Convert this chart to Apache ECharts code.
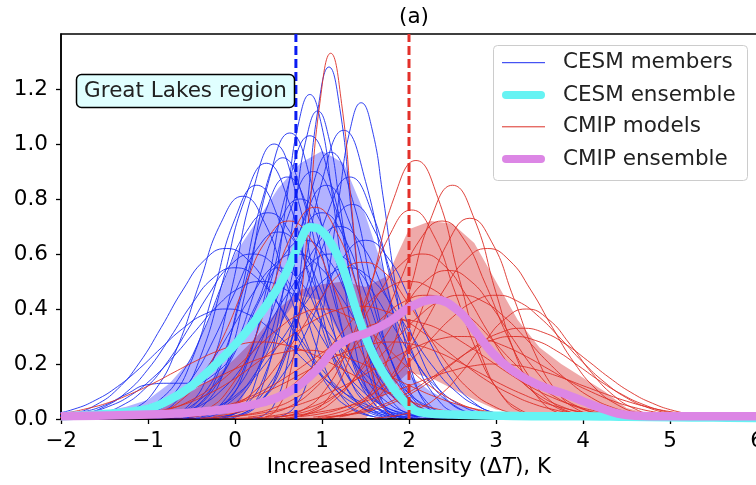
<!DOCTYPE html>
<html><head><meta charset="utf-8">
<script src="https://cdn.jsdelivr.net/npm/echarts@6/dist/echarts.min.js"></script>
<style>html,body{margin:0;padding:0;background:#fff}#c{width:756px;height:485px}</style>
</head><body><div id="c"></div>
<script>
// ---------- DATA ----------
const xTickValues = [-2,-1,0,1,2,3,4,5,6];
const yTickValues = [0,0.2,0.4,0.6,0.8,1.0,1.2];
const cesmEnsembleX = [-2,-1.5,-1,-0.75,-0.5,-0.25,0,0.25,0.5,0.63,0.75,0.86,0.97,1.12,1.25,1.4,1.55,1.7,1.9,2.12,2.5,3,3.5,4,4.5,5,5.5,6];
const cesmEnsembleY = [0.010,0.018,0.037,0.07,0.12,0.19,0.27,0.365,0.48,0.56,0.645,0.697,0.69,0.63,0.54,0.39,0.26,0.17,0.08,0.025,0.016,0.012,0.010,0.010,0.008,0.006,0.005,0.004];
const cmipEnsembleX = [-2,-1,-0.5,0,0.25,0.5,0.75,1.0,1.12,1.3,1.53,1.78,2.0,2.3,2.58,2.77,2.96,3.15,3.38,3.6,3.8,4.0,4.2,4.4,4.6,5,5.5,6];
const cmipEnsembleY = [0.010,0.016,0.024,0.04,0.055,0.08,0.125,0.2,0.25,0.29,0.315,0.355,0.405,0.435,0.39,0.315,0.24,0.185,0.14,0.11,0.09,0.065,0.04,0.02,0.012,0.01,0.01,0.01];
const bandStartX = -2, bandStepX = 0.25; // band sample grid (x = -2 … 6)
const cesmBandUpper = [0.012,0.018,0.028,0.045,0.07,0.13,0.22,0.40,0.60,0.72,0.84,0.93,0.975,0.93,0.74,0.50,0.16,0.10,0.06,0.035,0.022,0.015,0.012,0.010,0.010,0.008,0.006,0.005,0.004,0.003,0.003,0.002,0.002];
const cesmBandLower = [0,0,0,0,0,0,0,0,0.03,0.17,0.34,0.45,0.43,0.28,0.10,0.02,0,0,0,0,0,0,0,0,0,0,0,0,0,0,0,0,0];
const cmipBandUpper = [0.01,0.015,0.02,0.03,0.045,0.07,0.1,0.15,0.22,0.3,0.4,0.47,0.49,0.5,0.48,0.52,0.69,0.72,0.71,0.64,0.5,0.36,0.26,0.2,0.15,0.1,0.04,0.02,0.012,0.01,0.01,0.01,0.01];
const cmipBandLower = [0,0,0,0,0,0,0,0,0,0,0,0,0,0,0,0.10,0.17,0.15,0.11,0.07,0.035,0.02,0.01,0,0,0,0,0,0,0,0,0,0];

// each member: [first x, x step, y values]
const cesmMembers = [
 [0.205,0.125,[0.003,0.014,0.056,0.173,0.416,0.777,1.129,1.28,1.129,0.777,0.416,0.173,0.056,0.014,0.003]],
 [0.45,0.125,[0.005,0.016,0.051,0.131,0.286,0.527,0.813,1.055,1.15,1.055,0.813,0.527,0.286,0.131,0.051,0.016,0.005]],
 [-0.14,0.125,[0.005,0.017,0.052,0.135,0.294,0.54,0.834,1.082,1.18,1.082,0.834,0.54,0.294,0.135,0.052,0.017,0.005]],
 [-0.05,0.125,[0.004,0.016,0.049,0.128,0.279,0.513,0.792,1.027,1.12,1.027,0.792,0.513,0.279,0.128,0.049,0.016,0.004]],
 [-0.62,0.25,[0.008,0.046,0.179,0.476,0.856,1.04,0.856,0.476,0.179,0.046,0.008]],
 [-0.39,0.25,[0.008,0.045,0.177,0.472,0.848,1.03,0.848,0.472,0.177,0.045,0.008]],
 [-1.14,0.25,[0.004,0.02,0.079,0.232,0.502,0.797,0.93,0.797,0.502,0.232,0.079,0.02,0.004]],
 [-1.41,0.25,[0.009,0.036,0.109,0.263,0.492,0.714,0.81,0.714,0.492,0.263,0.109,0.036,0.009]],
 [-1.37,0.25,[0.007,0.023,0.068,0.161,0.315,0.51,0.681,0.75,0.681,0.51,0.315,0.161,0.068,0.023,0.007]],
 [-0.15,0.25,[0.007,0.043,0.167,0.444,0.798,0.97,0.798,0.444,0.167,0.043,0.007]],
 [-0.18,0.25,[0.004,0.018,0.075,0.219,0.475,0.754,0.88,0.754,0.475,0.219,0.075,0.018,0.004]],
 [-0.9,0.25,[0.004,0.018,0.075,0.219,0.475,0.754,0.88,0.754,0.475,0.219,0.075,0.018,0.004]],
 [-0.75,0.25,[0.009,0.035,0.108,0.26,0.486,0.706,0.8,0.706,0.486,0.26,0.108,0.035,0.009]],
 [-0.5,0.25,[0.008,0.033,0.101,0.244,0.455,0.662,0.75,0.662,0.455,0.244,0.101,0.033,0.008]],
 [-2.1,0.25,[0.007,0.02,0.051,0.109,0.204,0.332,0.469,0.578,0.62,0.578,0.469,0.332,0.204,0.109,0.051,0.02,0.007]],
 [-1.25,0.25,[0.006,0.021,0.061,0.146,0.286,0.462,0.617,0.68,0.617,0.462,0.286,0.146,0.061,0.021,0.006]],
 [-0.55,0.25,[0.006,0.022,0.063,0.151,0.294,0.476,0.636,0.7,0.636,0.476,0.294,0.151,0.063,0.022,0.006]],
 [-1.8,0.25,[0.007,0.02,0.049,0.106,0.197,0.321,0.454,0.56,0.6,0.56,0.454,0.321,0.197,0.106,0.049,0.02,0.007]],
 [-0.6,0.25,[0.004,0.019,0.077,0.224,0.486,0.771,0.9,0.771,0.486,0.224,0.077,0.019,0.004]],
 [-0.25,0.25,[0.006,0.02,0.059,0.14,0.273,0.442,0.59,0.65,0.59,0.442,0.273,0.14,0.059,0.02,0.006]],
 [-2.0,0.25,[0.007,0.018,0.045,0.097,0.181,0.294,0.416,0.513,0.55,0.513,0.416,0.294,0.181,0.097,0.045,0.018,0.007]],
 [-2.35,0.25,[0.008,0.018,0.036,0.069,0.118,0.183,0.258,0.329,0.381,0.4,0.381,0.329,0.258,0.183,0.118,0.069,0.036,0.018,0.008]],
 [-1.3,0.25,[0.007,0.02,0.049,0.106,0.197,0.321,0.454,0.56,0.6,0.56,0.454,0.321,0.197,0.106,0.049,0.02,0.007]],
 [-0.9,0.25,[0.007,0.02,0.049,0.106,0.197,0.321,0.454,0.56,0.6,0.56,0.454,0.321,0.197,0.106,0.049,0.02,0.007]],
 [-2.0,0.25,[0.01,0.025,0.05,0.09,0.125,0.13,0.13,0.16,0.25,0.42,0.55,0.5,0.35,0.18,0.07,0.02,0.005]],
 [-0.8,0.25,[0.008,0.044,0.172,0.458,0.823,1.0,0.823,0.458,0.172,0.044,0.008]],
 [0.0,0.25,[0.008,0.046,0.181,0.481,0.864,1.05,0.864,0.481,0.181,0.046,0.008]],
 [-1.25,0.25,[0.003,0.018,0.072,0.212,0.459,0.728,0.85,0.728,0.459,0.212,0.072,0.018,0.003]],
 [-0.7,0.25,[0.007,0.042,0.163,0.435,0.782,0.95,0.782,0.435,0.163,0.042,0.007]],
 [-0.7,0.25,[0.007,0.018,0.045,0.097,0.181,0.294,0.416,0.513,0.55,0.513,0.416,0.294,0.181,0.097,0.045,0.018,0.007]],
 [-0.95,0.25,[0.006,0.02,0.059,0.14,0.273,0.442,0.59,0.65,0.59,0.442,0.273,0.14,0.059,0.02,0.006]],
 [-0.15,0.25,[0.009,0.034,0.105,0.254,0.473,0.688,0.78,0.688,0.473,0.254,0.105,0.034,0.009]],
 [-1.95,0.25,[0.01,0.022,0.046,0.086,0.148,0.229,0.322,0.412,0.476,0.5,0.476,0.412,0.322,0.229,0.148,0.086,0.046,0.022,0.01]],
 [-0.45,0.25,[0.003,0.018,0.072,0.212,0.459,0.728,0.85,0.728,0.459,0.212,0.072,0.018,0.003]]
];
const cmipModels = [
 [0.35,0.125,[0.007,0.033,0.125,0.352,0.738,1.148,1.33,1.148,0.738,0.352,0.125,0.033,0.007]],
 [0.58,0.25,[0.004,0.02,0.08,0.234,0.508,0.806,0.94,0.806,0.508,0.234,0.08,0.02,0.004]],
 [1.0,0.25,[0.003,0.018,0.072,0.212,0.459,0.728,0.85,0.728,0.459,0.212,0.072,0.018,0.003]],
 [0.53,0.25,[0.008,0.033,0.103,0.247,0.461,0.67,0.76,0.67,0.461,0.247,0.103,0.033,0.008]],
 [0.63,0.25,[0.006,0.022,0.065,0.155,0.302,0.49,0.654,0.72,0.654,0.49,0.302,0.155,0.065,0.022,0.006]],
 [1.2,0.25,[0.008,0.032,0.099,0.237,0.443,0.644,0.73,0.644,0.443,0.237,0.099,0.032,0.008]],
 [0.9,0.25,[0.007,0.02,0.051,0.109,0.204,0.332,0.469,0.578,0.62,0.578,0.469,0.332,0.204,0.109,0.051,0.02,0.007]],
 [-0.58,0.25,[0.008,0.034,0.104,0.25,0.467,0.679,0.77,0.679,0.467,0.25,0.104,0.034,0.008]],
 [-1.13,0.25,[0.006,0.022,0.065,0.155,0.302,0.49,0.654,0.72,0.654,0.49,0.302,0.155,0.065,0.022,0.006]],
 [-0.53,0.25,[0.007,0.019,0.047,0.1,0.188,0.305,0.431,0.532,0.57,0.532,0.431,0.305,0.188,0.1,0.047,0.019,0.007]],
 [-1.57,0.25,[0.005,0.009,0.018,0.033,0.055,0.089,0.133,0.188,0.249,0.31,0.362,0.397,0.41,0.397,0.362,0.31,0.249,0.188,0.133,0.089,0.055,0.033,0.018,0.009,0.005]],
 [0.45,0.25,[0.006,0.018,0.044,0.095,0.178,0.289,0.409,0.504,0.54,0.504,0.409,0.289,0.178,0.095,0.044,0.018,0.006]],
 [0.75,0.25,[0.009,0.02,0.041,0.077,0.133,0.206,0.29,0.37,0.428,0.45,0.428,0.37,0.29,0.206,0.133,0.077,0.041,0.02,0.009]],
 [-0.05,0.25,[0.009,0.02,0.041,0.077,0.133,0.206,0.29,0.37,0.428,0.45,0.428,0.37,0.29,0.206,0.133,0.077,0.041,0.02,0.009]],
 [1.05,0.25,[0.006,0.015,0.03,0.057,0.097,0.151,0.213,0.272,0.314,0.33,0.314,0.272,0.213,0.151,0.097,0.057,0.03,0.015,0.006]],
 [-1.1,0.25,[0.004,0.008,0.016,0.029,0.049,0.078,0.117,0.165,0.219,0.272,0.318,0.349,0.36,0.349,0.318,0.272,0.219,0.165,0.117,0.078,0.049,0.029,0.016,0.008,0.004]],
 [-2.7,0.25,[0.003,0.006,0.012,0.022,0.038,0.06,0.091,0.128,0.17,0.211,0.247,0.271,0.28,0.271,0.247,0.211,0.17,0.128,0.091,0.06,0.038,0.022,0.012,0.006,0.003]],
 [-0.4,0.25,[0.003,0.007,0.013,0.024,0.041,0.065,0.098,0.137,0.182,0.227,0.265,0.291,0.3,0.291,0.265,0.227,0.182,0.137,0.098,0.065,0.041,0.024,0.013,0.007,0.003]],
 [0.95,0.25,[0.006,0.013,0.027,0.052,0.089,0.137,0.193,0.247,0.286,0.3,0.286,0.247,0.193,0.137,0.089,0.052,0.027,0.013,0.006]],
 [-1.2,0.25,[0.003,0.006,0.012,0.022,0.038,0.06,0.091,0.128,0.17,0.211,0.247,0.271,0.28,0.271,0.247,0.211,0.17,0.128,0.091,0.06,0.038,0.022,0.012,0.006,0.003]],
 [-2.2,0.25,[0.003,0.006,0.011,0.02,0.034,0.054,0.081,0.115,0.152,0.189,0.221,0.242,0.25,0.242,0.221,0.189,0.152,0.115,0.081,0.054,0.034,0.02,0.011,0.006,0.003]],
 [0.15,0.25,[0.007,0.02,0.049,0.106,0.197,0.321,0.454,0.56,0.6,0.56,0.454,0.321,0.197,0.106,0.049,0.02,0.007]],
 [0.35,0.25,[0.009,0.02,0.041,0.077,0.133,0.206,0.29,0.37,0.428,0.45,0.428,0.37,0.29,0.206,0.133,0.077,0.041,0.02,0.009]],
 [-1.25,0.25,[0.008,0.018,0.036,0.069,0.118,0.183,0.258,0.329,0.381,0.4,0.381,0.329,0.258,0.183,0.118,0.069,0.036,0.018,0.008]],
 [0.0,0.25,[0.002,0.005,0.009,0.016,0.027,0.043,0.065,0.092,0.121,0.151,0.176,0.194,0.2,0.194,0.176,0.151,0.121,0.092,0.065,0.043,0.027,0.016,0.009,0.005,0.002]],
 [-0.25,0.25,[0.01,0.022,0.046,0.086,0.148,0.229,0.322,0.412,0.476,0.5,0.476,0.412,0.322,0.229,0.148,0.086,0.046,0.022,0.01]],
 [1.6,0.25,[0.004,0.012,0.036,0.086,0.168,0.272,0.363,0.4,0.363,0.272,0.168,0.086,0.036,0.012,0.004]]
];
const cesmThreshold = 0.7;
const cmipThreshold = 2.0;
const yMax = 1.4;
const legendLabels = ['CESM members','CESM ensemble','CMIP models','CMIP ensemble'];
const regionLabel = 'Great Lakes region';

// ---------- CHART ----------
const FONT = 'DejaVu Sans';
const chart = echarts.init(document.getElementById('c'));
const memberPts = c => c[2].map((y,i) => [c[0] + i*c[1], y]);
const zipPts = (xs, ys) => xs.map((x,i) => [x, ys[i]]);

function band(name, upper, lower, color, z){
  return {type:'custom', name, z, silent:true, data:[[0,0]],
    renderItem:(params, api) => {
      const pts = [];
      upper.forEach((y,i) => pts.push(api.coord([bandStartX + i*bandStepX, y])));
      for (let i = lower.length-1; i >= 0; i--) pts.push(api.coord([bandStartX + i*bandStepX, lower[i]]));
      return {type:'polygon', shape:{points:pts}, style:{fill:color}};
    }};
}
const series = [];
series.push(band('cmipBand', cmipBandUpper, cmipBandLower, 'rgba(214,39,40,0.4)', 1));
series.push(band('cesmBand', cesmBandUpper, cesmBandLower, 'rgba(0,0,255,0.3)', 1));
cesmMembers.forEach(c => series.push({type:'line', name:legendLabels[0], data:memberPts(c), smooth:0.5, symbol:'none', silent:true, z:3,
  lineStyle:{color:'#1a2cf0', width:0.9}}));
cmipModels.forEach(c => series.push({type:'line', name:legendLabels[2], data:memberPts(c), smooth:0.5, symbol:'none', silent:true, z:4,
  lineStyle:{color:'#dc2f27', width:0.9}}));
series.push({type:'line', name:legendLabels[1], data:zipPts(cesmEnsembleX, cesmEnsembleY), smooth:0.4, symbol:'none', silent:true, z:5,
  lineStyle:{color:'#66f3f3', width:8.5}});
series.push({type:'line', name:legendLabels[3], data:zipPts(cmipEnsembleX, cmipEnsembleY), smooth:0.4, symbol:'none', silent:true, z:6,
  lineStyle:{color:'#dc86e5', width:8.5}});
series.push({type:'line', data:[[cesmThreshold,0],[cesmThreshold,yMax]], symbol:'none', silent:true, z:7,
  lineStyle:{color:'#0a1cf2', width:3, type:[9,4]}});
series.push({type:'line', data:[[cmipThreshold,0],[cmipThreshold,yMax]], symbol:'none', silent:true, z:7,
  lineStyle:{color:'#e3302a', width:3, type:[9,4]}});

const LX = 493, LY = 45, rowY = [62.7, 95, 126.8, 159];
const legendStyles = [
  {stroke:'#1a2cf0', lineWidth:1},
  {stroke:'#66f3f3', lineWidth:8, lineCap:'round'},
  {stroke:'#dc2f27', lineWidth:1},
  {stroke:'#dc86e5', lineWidth:8, lineCap:'round'}
];
const graphics = [
  {type:'rect', z:100, shape:{x:LX+0.5, y:LY+0.5, width:254, height:135, r:4}, style:{fill:'rgba(255,255,255,0.8)', stroke:'#cccccc', lineWidth:1}},
  {type:'rect', z:100, shape:{x:76.5, y:74.5, width:218, height:33, r:5}, style:{fill:'#e0ffff', stroke:'#000', lineWidth:1.5}},
  {type:'text', z:101, style:{text:regionLabel, x:185.5, y:91.5, textAlign:'center', textVerticalAlign:'middle', font:'21.5px "DejaVu Sans"', fill:'#222'}}
];
legendLabels.forEach((t,i) => {
  const st = legendStyles[i];
  const pad = st.lineCap === 'round' ? 4 : 0;
  graphics.push({type:'line', z:101, shape:{x1:502+pad, y1:rowY[i], x2:545-pad, y2:rowY[i]}, style:Object.assign({}, st)});
  graphics.push({type:'text', z:101, style:{text:t, x:563, y:rowY[i], textVerticalAlign:'middle', font:'21.5px "DejaVu Sans"', fill:'#222'}});
});

chart.setOption({
  animation:false,
  title:{text:'(a)', left:409, top:1, textAlign:'center', textStyle:{fontSize:21.5, fontWeight:'normal', fontFamily:FONT, color:'#000'}},
  grid:{left:61, right:-1, top:34, bottom:66, show:true, borderColor:'#000', borderWidth:1.5, outerBoundsMode:'none', containLabel:false},
  xAxis:{type:'value', min:xTickValues[0], max:xTickValues[xTickValues.length-1], interval:1,
    axisLine:{show:true, onZero:false, lineStyle:{color:'#000', width:1.5}},
    axisTick:{show:true, length:5, lineStyle:{color:'#000', width:1.3}},
    axisLabel:{show:true, color:'#000', fontSize:21.5, fontFamily:FONT, margin:11,
      formatter:v => v < 0 ? '\u2212' + Math.abs(v) : String(v)},
    splitLine:{show:false},
    name:'Increased Intensity (\u0394{i|T}), K', nameLocation:'middle', nameGap:34,
    nameTextStyle:{fontSize:21.5, fontFamily:FONT, color:'#000', rich:{i:{fontStyle:'italic', fontSize:21.5, fontFamily:FONT, color:'#000'}}}},
  yAxis:{type:'value', min:yTickValues[0], max:yMax, interval:0.2,
    axisLine:{show:true, onZero:false, lineStyle:{color:'#000', width:1.5}},
    axisTick:{show:true, length:5, lineStyle:{color:'#000', width:1.3}},
    axisLabel:{show:true, color:'#000', fontSize:21.5, fontFamily:FONT, margin:13, showMaxLabel:false,
      formatter:v => v > yTickValues[yTickValues.length-1] + 1e-6 ? '' : v.toFixed(1)},
    splitLine:{show:false}},
  graphic:graphics,
  series
});
</script></body></html>
